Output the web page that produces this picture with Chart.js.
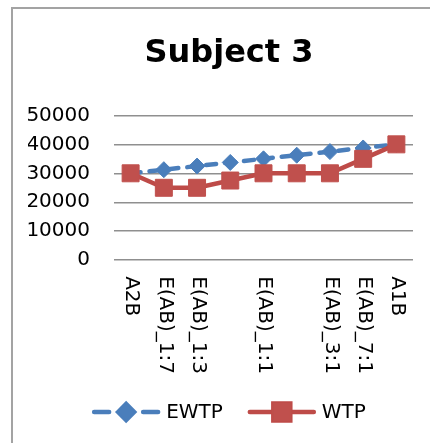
<!DOCTYPE html>
<html>
<head>
<meta charset="utf-8">
<script src="https://cdn.jsdelivr.net/npm/chart.js@4.4.1/dist/chart.umd.min.js"></script>
<style>
  html, body { margin: 0; padding: 0; background: #fff; overflow: hidden; }
  #wrap { position: relative; width: 430px; height: 443px; overflow: hidden; }
  #frame {
    position: absolute; left: 11px; top: 7px; width: 700px; height: 700px;
    border-left: 2px solid #a3a3a3; border-top: 2px solid #a3a3a3;
  }
  #c { position: absolute; left: 0; top: 0; }
</style>
</head>
<body>
<div id="wrap">
  <div id="frame"></div>
  <canvas id="c" width="430" height="443"></canvas>
</div>
<script>
// Categories along the x axis (two positions carry no label)
const categories = ['A2B', 'E(AB)_1:7', 'E(AB)_1:3', '', 'E(AB)_1:1', '', 'E(AB)_3:1', 'E(AB)_7:1', 'A1B'];
// Series values
const ewtpValues = [30000, 31250, 32500, 33750, 35000, 36250, 37500, 38750, 40000];
const wtpValues  = [30000, 25000, 25000, 27500, 30000, 30000, 30000, 35000, 40000];
// Value-axis ticks
const yTickValues = [0, 10000, 20000, 30000, 40000, 50000];

const FONT = 'DejaVu Sans';
const BLUE = '#4a7ebb';
const RED = '#be4b48';
const RED_FILL = '#c0504d';

// Category labels rotated clockwise, reading top to bottom under each tick
const clockwiseLabels = {
  id: 'clockwiseLabels',
  afterDraw(chart) {
    const xs = chart.scales.x;
    const ctx = chart.ctx;
    ctx.save();
    ctx.font = '20px "' + FONT + '"';
    ctx.fillStyle = '#000';
    ctx.textAlign = 'left';
    ctx.textBaseline = 'middle';
    xs.ticks.forEach((t, i) => {
      const label = xs.getLabelForValue(t.value);
      if (!label) return;
      const x = xs.getPixelForTick(i) + 1;
      const y = chart.chartArea.bottom + 16;
      ctx.save();
      ctx.translate(x, y);
      ctx.rotate(Math.PI / 2);
      ctx.fillText(label, 0, 0);
      ctx.restore();
    });
    ctx.restore();
  }
};

// Legend with a line sample and marker for each series
const lineLegend = {
  id: 'lineLegend',
  afterDraw(chart) {
    const ctx = chart.ctx;
    const sets = chart.data.datasets;
    const sampleW = 68, gap = 6, itemGap = 25;
    ctx.save();
    ctx.font = '20px "' + FONT + '"';
    const widths = sets.map(ds => sampleW + gap + ctx.measureText(ds.label).width);
    const total = widths.reduce((a, b) => a + b, 0) + itemGap * (sets.length - 1);
    const tb = chart.titleBlock;
    const cx = tb.left + tb.width / 2;
    const cy = 412;
    let x = cx - total / 2;
    sets.forEach((ds, i) => {
      ctx.save();
      ctx.strokeStyle = ds.borderColor;
      ctx.lineWidth = ds.borderWidth;
      ctx.lineCap = 'round';
      if (ds.borderDash) {
        // dashes either side of the marker
        ctx.beginPath();
        ctx.moveTo(x + 2, cy); ctx.lineTo(x + 17, cy);
        ctx.moveTo(x + sampleW - 17, cy); ctx.lineTo(x + sampleW - 2, cy);
        ctx.stroke();
      } else {
        ctx.beginPath();
        ctx.moveTo(x + 2, cy); ctx.lineTo(x + sampleW - 2, cy);
        ctx.stroke();
      }
      Chart.helpers.drawPoint(ctx, {
        pointStyle: ds.pointStyle,
        radius: ds.pointRadius,
        borderWidth: ds.pointBorderWidth,
        rotation: 0
      }, x + sampleW / 2, cy);
      ctx.fillStyle = ds.pointBackgroundColor;
      ctx.strokeStyle = ds.pointBorderColor;
      ctx.lineWidth = ds.pointBorderWidth;
      ctx.fill();
      ctx.stroke();
      ctx.restore();
      ctx.fillStyle = '#000';
      ctx.textAlign = 'left';
      ctx.textBaseline = 'middle';
      ctx.fillText(ds.label, x + sampleW + gap, cy + 1);
      x += widths[i] + itemGap;
    });
    ctx.restore();
  }
};

new Chart(document.getElementById('c'), {
  type: 'line',
  data: {
    labels: categories,
    datasets: [
      {
        label: 'EWTP',
        data: ewtpValues,
        order: 2,
        borderColor: BLUE,
        borderWidth: 4.5,
        borderDash: [10, 9],
        borderCapStyle: 'round',
        pointStyle: 'rectRot',
        pointRadius: 8,
        pointBorderWidth: 1,
        pointBackgroundColor: BLUE,
        pointBorderColor: BLUE,
        tension: 0
      },
      {
        label: 'WTP',
        data: wtpValues,
        order: 1,
        borderColor: RED,
        borderWidth: 4.5,
        borderCapStyle: 'round',
        pointStyle: 'rect',
        pointRadius: 12,
        pointBorderWidth: 1,
        pointBackgroundColor: RED_FILL,
        pointBorderColor: RED_FILL,
        tension: 0
      }
    ]
  },
  options: {
    responsive: false,
    animation: false,
    devicePixelRatio: 1,
    layout: { padding: { left: 28, right: 0, top: 0, bottom: 53 } },
    plugins: {
      legend: { display: false },
      tooltip: { enabled: false },
      title: {
        display: true,
        text: 'Subject 3',
        color: '#000',
        font: { family: FONT, size: 32, weight: 'bold', lineHeight: 1.2 },
        padding: { top: 34, bottom: 43 }
      }
    },
    scales: {
      x: {
        offset: true,
        grid: { display: false, drawTicks: false },
        border: { display: false },
        ticks: {
          autoSkip: false,
          minRotation: 90,
          maxRotation: 90,
          padding: 16,
          color: 'transparent',
          font: { family: FONT, size: 20 }
        },
        afterFit(scale) { scale.paddingRight = 17; }
      },
      y: {
        min: 0,
        max: 50000,
        grid: { color: '#8f8f8f', lineWidth: 1.5, drawTicks: false },
        border: { display: false },
        afterBuildTicks(scale) { scale.ticks = yTickValues.map(v => ({ value: v })); },
        ticks: {
          autoSkip: false,
          padding: 24,
          color: '#000',
          font: { family: FONT, size: 20 },
          callback: v => String(v)
        },
        afterFit(scale) { scale.width = 86; }
      }
    }
  },
  plugins: [clockwiseLabels, lineLegend]
});
</script>
</body>
</html>
